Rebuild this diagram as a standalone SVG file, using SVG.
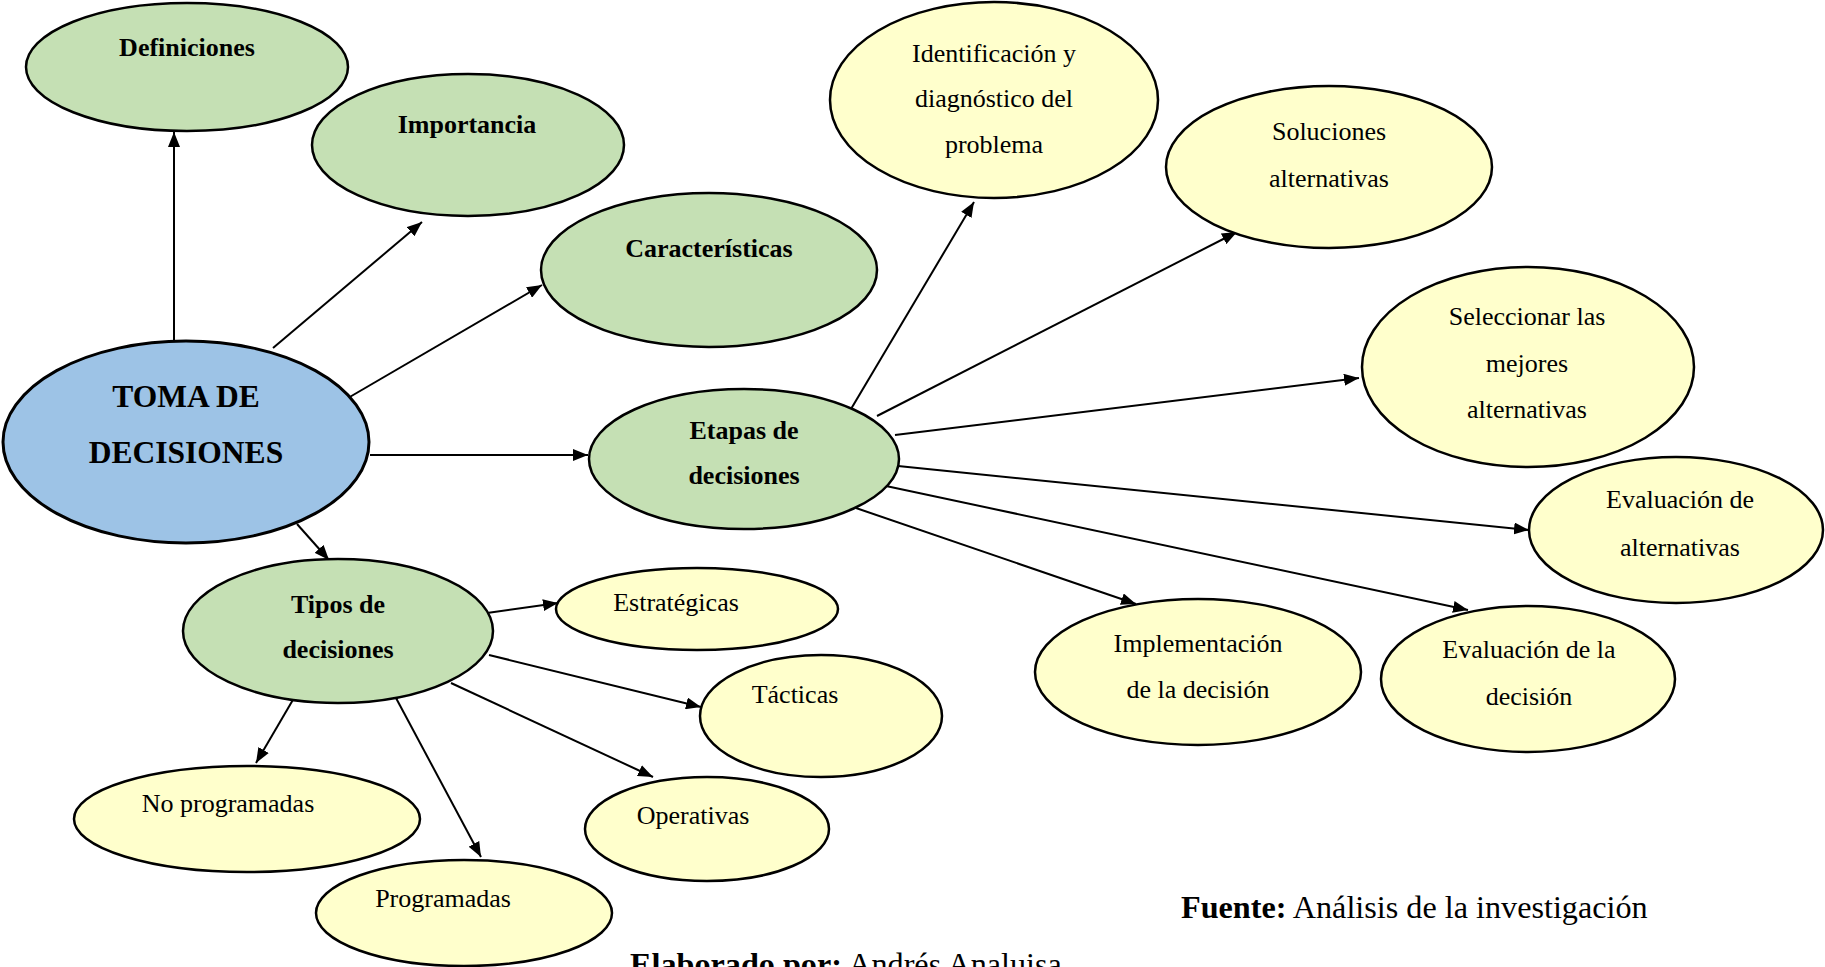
<svg xmlns="http://www.w3.org/2000/svg" width="1825" height="967" viewBox="0 0 1825 967">
<style>
  .g{fill:#C5E0B4;stroke:#000;stroke-width:2.5}
  .b{fill:#9DC3E6;stroke:#000;stroke-width:3}
  .y{fill:#FFFFCC;stroke:#000;stroke-width:2.5}
  text{font-family:"Liberation Serif","Times New Roman",serif;fill:#000;text-anchor:middle}
  .t{font-size:26px}
  .tb{font-size:26px;font-weight:bold}
  .big{font-size:31.5px;font-weight:bold}
  .ft{font-size:32.2px;text-anchor:start}
  #connectors line{stroke:#000;stroke-width:2;marker-end:url(#ah)}
</style>
<defs>
  <marker id="ah" markerUnits="userSpaceOnUse" markerWidth="16" markerHeight="12" refX="15" refY="6" orient="auto">
    <path d="M0,0 L15,6 L0,12 z" fill="#000"/>
  </marker>
</defs>
<rect width="1825" height="967" fill="#fff"/>
<g id="connectors">
  <line x1="174" y1="343" x2="174" y2="132"/>
  <line x1="273" y1="348" x2="422" y2="222"/>
  <line x1="348" y1="398" x2="542" y2="285"/>
  <line x1="370" y1="455" x2="588" y2="455"/>
  <line x1="297" y1="524" x2="329" y2="560"/>
  <line x1="487" y1="613" x2="558" y2="603"/>
  <line x1="489" y1="655" x2="701" y2="707"/>
  <line x1="451" y1="683" x2="653" y2="777"/>
  <line x1="294" y1="698" x2="256" y2="763"/>
  <line x1="396" y1="698" x2="481" y2="857"/>
  <line x1="851" y1="409" x2="974" y2="202"/>
  <line x1="877" y1="416" x2="1237" y2="232"/>
  <line x1="895" y1="435" x2="1359" y2="378"/>
  <line x1="898" y1="466" x2="1529" y2="530"/>
  <line x1="886" y1="486" x2="1468" y2="610"/>
  <line x1="856" y1="508" x2="1136" y2="604"/>
</g>
<g id="definiciones"><ellipse class="g" cx="187" cy="67" rx="161" ry="64"/><text class="tb" x="187" y="56">Definiciones</text></g>
<g id="importancia"><ellipse class="g" cx="468" cy="145" rx="156" ry="71"/><text class="tb" x="467" y="133">Importancia</text></g>
<g id="caracteristicas"><ellipse class="g" cx="709" cy="270" rx="168" ry="77"/><text class="tb" x="709" y="257">Características</text></g>
<g id="toma"><ellipse class="b" cx="186" cy="442" rx="183" ry="101"/><text class="big" x="186" y="407">TOMA DE</text><text class="big" x="186" y="463">DECISIONES</text></g>
<g id="etapas"><ellipse class="g" cx="744" cy="459" rx="155" ry="70"/><text class="tb" x="744" y="439">Etapas de</text><text class="tb" x="744" y="484">decisiones</text></g>
<g id="tipos"><ellipse class="g" cx="338" cy="631" rx="155" ry="72"/><text class="tb" x="338" y="613">Tipos de</text><text class="tb" x="338" y="658">decisiones</text></g>
<g id="estrategicas"><ellipse class="y" cx="697" cy="609" rx="141" ry="41"/><text class="t" x="676" y="611">Estratégicas</text></g>
<g id="tacticas"><ellipse class="y" cx="821" cy="716" rx="121" ry="61"/><text class="t" x="795" y="703">Tácticas</text></g>
<g id="operativas"><ellipse class="y" cx="707" cy="829" rx="122" ry="52"/><text class="t" x="693" y="824">Operativas</text></g>
<g id="noprogramadas"><ellipse class="y" cx="247" cy="819" rx="173" ry="53"/><text class="t" x="228" y="812">No programadas</text></g>
<g id="programadas"><ellipse class="y" cx="464" cy="913" rx="148" ry="53"/><text class="t" x="443" y="907">Programadas</text></g>
<g id="identificacion"><ellipse class="y" cx="994" cy="100" rx="164" ry="98"/><text class="t" x="994" y="62">Identificación y</text><text class="t" x="994" y="107">diagnóstico del</text><text class="t" x="994" y="153">problema</text></g>
<g id="soluciones"><ellipse class="y" cx="1329" cy="167" rx="163" ry="81"/><text class="t" x="1329" y="140">Soluciones</text><text class="t" x="1329" y="187">alternativas</text></g>
<g id="seleccionar"><ellipse class="y" cx="1528" cy="367" rx="166" ry="100"/><text class="t" x="1527" y="325">Seleccionar las</text><text class="t" x="1527" y="372">mejores</text><text class="t" x="1527" y="418">alternativas</text></g>
<g id="evalalternativas"><ellipse class="y" cx="1676" cy="530" rx="147" ry="73"/><text class="t" x="1680" y="508">Evaluación de</text><text class="t" x="1680" y="556">alternativas</text></g>
<g id="implementacion"><ellipse class="y" cx="1198" cy="672" rx="163" ry="73"/><text class="t" x="1198" y="652">Implementación</text><text class="t" x="1198" y="698">de la decisión</text></g>
<g id="evaldecision"><ellipse class="y" cx="1528" cy="679" rx="147" ry="73"/><text class="t" x="1529" y="658">Evaluación de la</text><text class="t" x="1529" y="705">decisión</text></g>
<text class="ft" x="1181" y="918"><tspan font-weight="bold">Fuente:</tspan> Análisis de la investigación</text>
<text class="ft" x="630" y="975"><tspan font-weight="bold">Elaborado por:</tspan> Andrés Analuisa</text>
</svg>
